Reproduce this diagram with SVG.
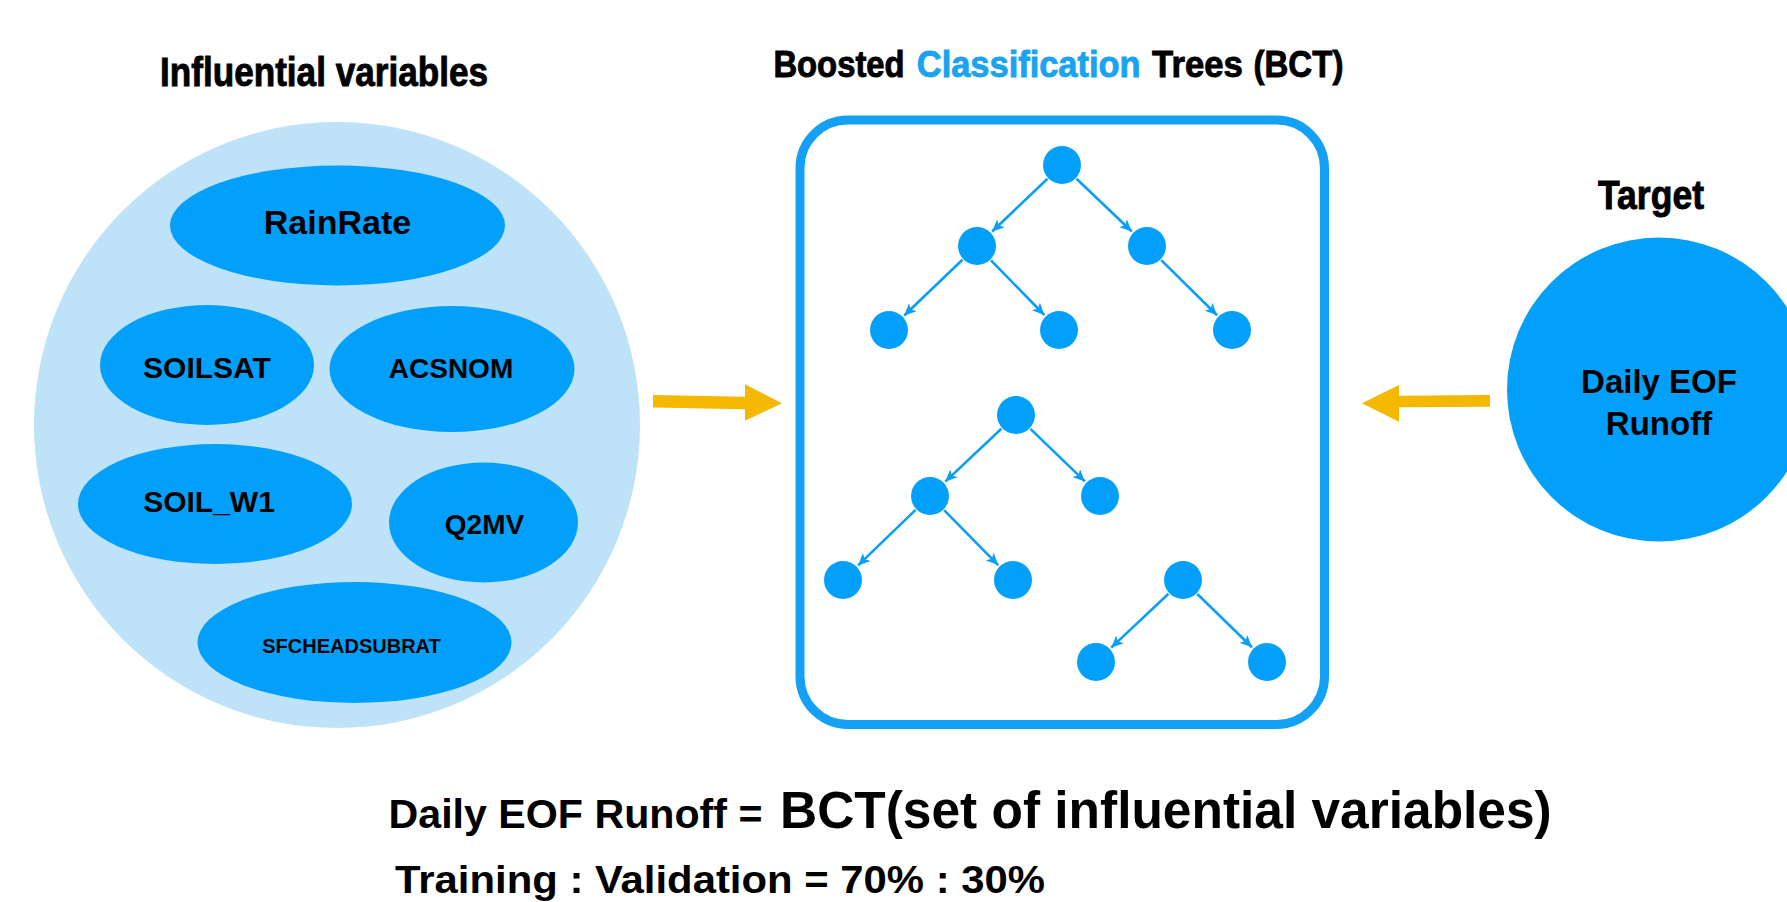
<svg xmlns="http://www.w3.org/2000/svg" width="1787" height="902" viewBox="0 0 1787 902">
<defs>
<style>
.cond{font-family:"Liberation Sans Narrow","Liberation Sans",Arial,sans-serif;font-weight:700;fill:#000;stroke:#000;stroke-width:0.9}
.lbl{font-family:"Liberation Sans",Arial,sans-serif;font-weight:700;fill:#000;text-anchor:middle}
.var{fill:#03A0FB}
.tn{fill:#03A0FB}
.edge{stroke:#0A9FF5;stroke-width:2.6;fill:none;marker-end:url(#ah)}
.orange{fill:#F5B800}
</style>
<marker id="ah" markerWidth="13" markerHeight="11" refX="12" refY="5.5" orient="auto" markerUnits="userSpaceOnUse">
<path d="M0,0 L12,5.5 L0,11 L3,5.5 z" fill="#0A9FF5"/>
</marker>
</defs>
<rect width="1787" height="902" fill="#fff"/>

<g id="influential">
<text class="cond" x="160" y="86" font-size="40" textLength="328" lengthAdjust="spacingAndGlyphs">Influential variables</text>
<circle cx="337" cy="425" r="303" fill="#BEE3F8"/>
<g id="v-rainrate"><ellipse class="var" cx="337.5" cy="225.5" rx="167.5" ry="60"/><text class="lbl" x="337.5" y="234" font-size="34">RainRate</text></g>
<g id="v-soilsat"><ellipse class="var" cx="207" cy="365" rx="107" ry="60"/><text class="lbl" x="207" y="378" font-size="30">SOILSAT</text></g>
<g id="v-acsnom"><ellipse class="var" cx="452" cy="369" rx="122.5" ry="63"/><text class="lbl" x="451" y="378" font-size="28">ACSNOM</text></g>
<g id="v-soilw1"><ellipse class="var" cx="215" cy="504" rx="137" ry="60"/><text class="lbl" x="209" y="512" font-size="30">SOIL_W1</text></g>
<g id="v-q2mv"><ellipse class="var" cx="483.5" cy="522.5" rx="94.5" ry="60"/><text class="lbl" x="484.5" y="534" font-size="28">Q2MV</text></g>
<g id="v-sfchead"><ellipse class="var" cx="354.5" cy="642.5" rx="157" ry="60.5"/><text class="lbl" x="351.5" y="653" font-size="20">SFCHEADSUBRAT</text></g>
</g>

<g id="bct">
<text class="cond" x="773.4" y="77" font-size="37" textLength="131.2" lengthAdjust="spacingAndGlyphs">Boosted</text>
<text class="cond" x="916.8" y="77" font-size="37" textLength="223.8" lengthAdjust="spacingAndGlyphs" style="fill:#1BA3F2;stroke:#1BA3F2">Classification</text>
<text class="cond" x="1152.1" y="77" font-size="37" textLength="90.7" lengthAdjust="spacingAndGlyphs">Trees</text>
<text class="cond" x="1253.5" y="77" font-size="37" textLength="89.9" lengthAdjust="spacingAndGlyphs">(BCT)</text>
<rect x="800" y="120" width="524.5" height="604.5" rx="48" ry="48" fill="none" stroke="#14A0F4" stroke-width="9"/>
<g id="tree-nodes">
<circle id="n1" class="tn" cx="1062" cy="165" r="19"/>
<circle id="n2" class="tn" cx="977" cy="246" r="19"/>
<circle id="n3" class="tn" cx="1147" cy="246" r="19"/>
<circle id="n4" class="tn" cx="889" cy="330" r="19"/>
<circle id="n5" class="tn" cx="1059" cy="330" r="19"/>
<circle id="n6" class="tn" cx="1232" cy="330" r="19"/>
<circle id="n7" class="tn" cx="1016" cy="415" r="19"/>
<circle id="n8" class="tn" cx="930" cy="496" r="19"/>
<circle id="n9" class="tn" cx="1100" cy="496" r="19"/>
<circle id="n10" class="tn" cx="843" cy="580" r="19"/>
<circle id="n11" class="tn" cx="1013" cy="580" r="19"/>
<circle id="n12" class="tn" cx="1183" cy="580" r="19"/>
<circle id="n13" class="tn" cx="1096" cy="662" r="19"/>
<circle id="n14" class="tn" cx="1267" cy="662" r="19"/>
</g>
</g>

<g id="target">
<text class="cond" x="1598" y="209" font-size="40" textLength="106" lengthAdjust="spacingAndGlyphs">Target</text>
<circle cx="1659" cy="389.5" r="152" fill="#03A0FB"/>
<text class="lbl" x="1659" y="393" font-size="33">Daily EOF</text>
<text class="lbl" x="1659" y="435" font-size="33">Runoff</text>
</g>

<g id="connectors">
<line class="edge" x1="1047.5" y1="178.8" x2="992.2" y2="231.5"/>
<line class="edge" x1="1076.5" y1="178.8" x2="1131.8" y2="231.5"/>
<line class="edge" x1="962.5" y1="259.8" x2="904.2" y2="315.5"/>
<line class="edge" x1="991" y1="260.3" x2="1044.3" y2="315"/>
<line class="edge" x1="1161.2" y1="260.1" x2="1217.1" y2="315.2"/>
<line class="edge" x1="1001.4" y1="428.7" x2="945.3" y2="481.6"/>
<line class="edge" x1="1030.4" y1="428.9" x2="1084.9" y2="481.4"/>
<line class="edge" x1="915.6" y1="509.9" x2="858.1" y2="565.4"/>
<line class="edge" x1="944.1" y1="510.2" x2="998.2" y2="565.1"/>
<line class="edge" x1="1168.5" y1="593.7" x2="1111.3" y2="647.6"/>
<line class="edge" x1="1197.3" y1="594" x2="1252" y2="647.3"/>
<polygon class="orange" points="653,395 745,396.7 745,384.3 782,403.3 745,420.8 745,409.3 653,407.5"/>
<polygon class="orange" points="1490,395 1399,395.7 1399,385 1362,403.3 1399,421.7 1399,407.3 1490,406.7"/>
</g>

<g id="formula">
<text class="lbl" style="text-anchor:start" x="388.5" y="828.3" font-size="41" textLength="374" lengthAdjust="spacingAndGlyphs">Daily EOF Runoff =</text>
<text class="lbl" style="text-anchor:start" x="780" y="828.3" font-size="51" textLength="771.7" lengthAdjust="spacingAndGlyphs">BCT(set of influential variables)</text>
<text class="lbl" style="text-anchor:start" x="395" y="893" font-size="39" textLength="650" lengthAdjust="spacingAndGlyphs">Training : Validation = 70% : 30%</text>
</g>
</svg>
